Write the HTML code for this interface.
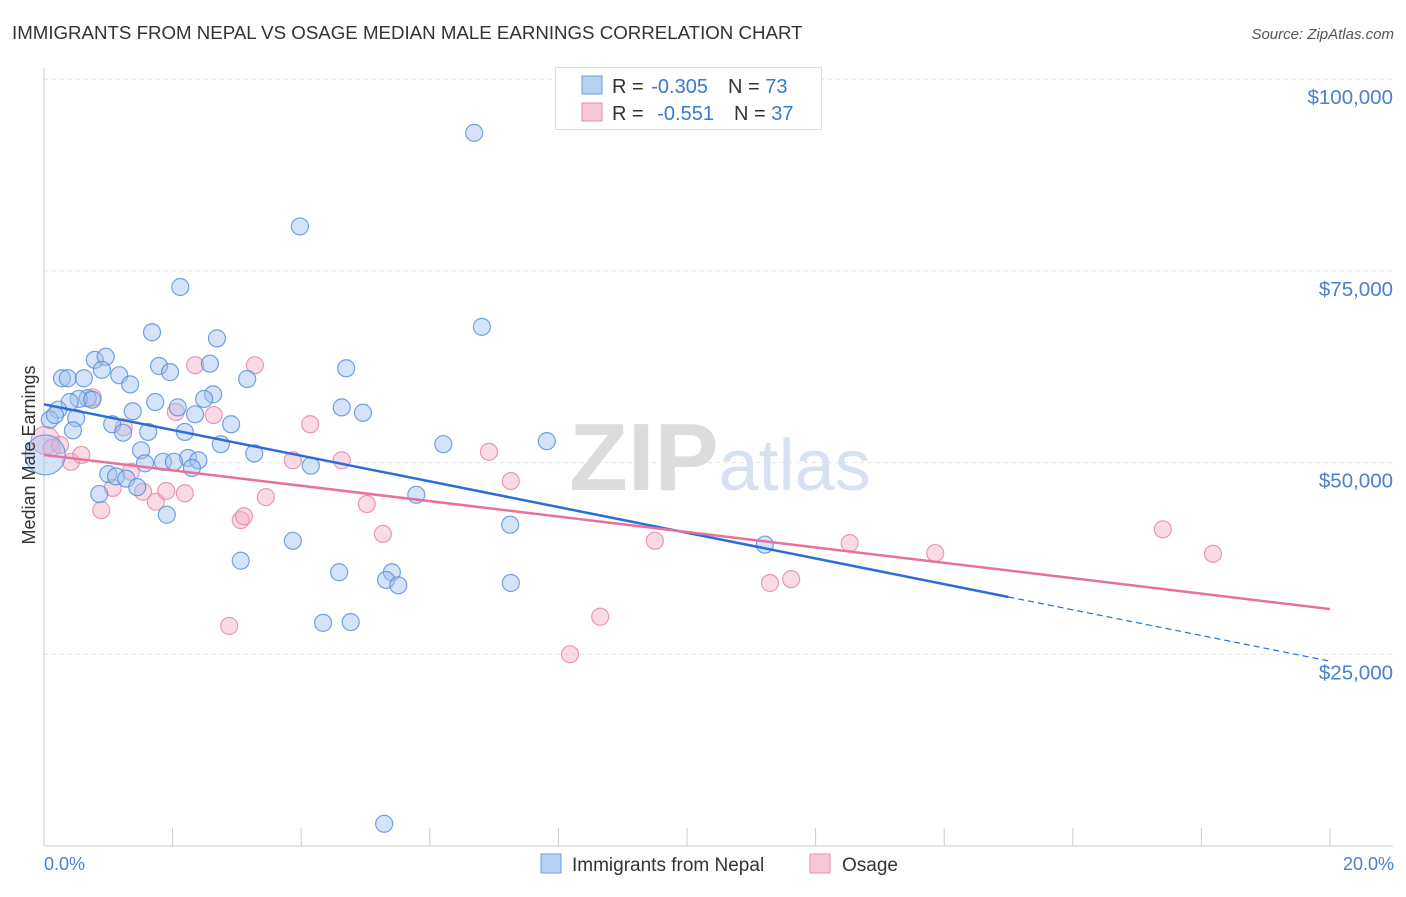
<!DOCTYPE html>
<html><head><meta charset="utf-8"><style>
body{margin:0;background:#fff;font-family:"Liberation Sans",sans-serif;}
svg text{font-family:"Liberation Sans",sans-serif;}
</style></head><body>
<svg width="1406" height="892" viewBox="0 0 1406 892">
<text x="12" y="39" font-size="18.7" fill="#333">IMMIGRANTS FROM NEPAL VS OSAGE MEDIAN MALE EARNINGS CORRELATION CHART</text>
<text x="1394" y="39" font-size="15" fill="#555" font-style="italic" text-anchor="end">Source: ZipAtlas.com</text>
<g id="grid"></g>
<text x="720" y="490" font-size="96" fill="#e4e4e4" text-anchor="middle" font-family="Liberation Serif"><tspan font-weight="bold" fill="#dcdcdc">ZIP</tspan><tspan font-size="72" fill="#d6e2f2" font-family="Liberation Sans">atlas</tspan></text>
<g id="axes"></g>
<g id="pts"></g>
<g id="lines"></g>
<text transform="translate(35,455) rotate(-90)" font-size="18" fill="#333" text-anchor="middle">Median Male Earnings</text>
<text x="44" y="870" font-size="18" fill="#4a7fd4">0.0%</text>
<text x="1394" y="870" font-size="18" fill="#4a7fd4" text-anchor="end">20.0%</text>
<g>
<rect x="555.5" y="67.5" width="266" height="62" fill="#fff" stroke="#ddd"/>
<rect x="582" y="76" width="20" height="18" fill="#b7d0f4" stroke="#6a9de0"/>
<rect x="582" y="103" width="20" height="18" fill="#f8c8d7" stroke="#e890ac"/>
<text x="612" y="93" font-size="20" fill="#333">R = <tspan dx="2" fill="#3a78d8">-0.305</tspan><tspan dx="20">N = </tspan><tspan fill="#3a78d8">73</tspan></text>
<text x="612" y="120" font-size="20" fill="#333">R = <tspan dx="8" fill="#3a78d8">-0.551</tspan><tspan dx="20">N = </tspan><tspan fill="#3a78d8">37</tspan></text>
</g>
<g>
<rect x="541" y="854" width="20" height="19" fill="#b7d0f4" stroke="#6a9de0"/>
<text x="572" y="871" font-size="19" fill="#333">Immigrants from Nepal</text>
<rect x="810" y="854" width="20" height="19" fill="#f8c8d7" stroke="#e890ac"/>
<text x="842" y="871" font-size="19" fill="#333">Osage</text>
</g>
</svg>
<script>
const yTicks=[25000,50000,75000,100000];
const yTickLabels=["$25,000","$50,000","$75,000","$100,000"];
const xTicks=[0,2,4,6,8,10,12,14,16,18,20];
const nepalX=[6.69,3.98,2.12,6.81,1.68,2.69,0.79,0.96,1.79,2.58,1.96,4.70,0.28,0.37,0.90,1.17,0.62,1.34,3.16,2.63,2.49,0.68,0.54,0.75,0.40,1.73,2.08,4.63,4.96,0.22,1.38,2.35,0.50,0.09,1.06,2.91,1.62,1.23,2.19,0.45,6.21,7.82,2.75,1.51,3.27,2.24,2.40,1.57,1.85,2.02,4.15,2.30,1.00,1.12,1.28,1.45,0.86,5.79,1.91,7.25,11.21,3.87,3.06,4.59,5.41,5.32,5.51,7.26,4.34,4.77,5.29,0.17,0.02];
const nepalY=[93.0,80.8,72.9,67.7,67.0,66.2,63.4,63.8,62.6,62.9,61.8,62.3,61.0,61.0,62.1,61.4,61.0,60.2,60.9,58.9,58.3,58.4,58.3,58.2,57.9,57.9,57.2,57.2,56.5,56.9,56.7,56.3,55.8,55.6,55.0,55.0,54.0,53.9,54.0,54.2,52.4,52.8,52.4,51.6,51.2,50.6,50.3,49.9,50.1,50.1,49.6,49.3,48.5,48.2,47.9,46.8,45.9,45.8,43.2,41.9,39.3,39.8,37.2,35.7,35.7,34.7,34.0,34.3,29.1,29.2,2.9,56.2,51.0];
const osageX=[0.02,0.12,0.25,0.42,0.58,0.89,1.07,1.24,1.35,1.54,1.74,1.90,2.19,2.05,2.35,2.64,2.88,3.06,3.11,3.28,3.45,3.87,4.14,4.63,5.02,5.27,6.92,7.26,8.18,8.65,9.50,11.29,11.62,12.53,13.86,17.40,18.18,0.76];
const osageY=[52.9,51.9,52.3,50.1,51.0,43.8,46.7,54.6,48.8,46.2,44.9,46.3,46.0,56.6,62.7,56.2,28.7,42.5,43.0,62.7,45.5,50.3,55.0,50.3,44.6,40.7,51.4,47.6,25.0,29.9,39.8,34.3,34.8,39.5,38.2,41.3,38.1,58.5];
const nepalTrend=[57.6,24.1]; const nepalSolidEnd=15.0;
const osageTrend=[51.0,30.9];
const NS="http://www.w3.org/2000/svg";
const X=v=>44+v*64.3;
const Y=v=>846-v*7.668;
function mk(tag,attrs,parent){const e=document.createElementNS(NS,tag);for(const k in attrs)e.setAttribute(k,attrs[k]);parent.appendChild(e);return e;}
const gridG=document.getElementById('grid'),axesG=document.getElementById('axes'),ptsG=document.getElementById('pts'),linesG=document.getElementById('lines');
yTicks.forEach((t,i)=>{
 const y=Y(t/1000);
 const l=mk('line',{x1:44,x2:1393,y1:y,y2:y,stroke:'#e2e2e2','stroke-dasharray':'4,4'},gridG);
 
 
 const tx=mk('text',{x:1393,y:y+25,'font-size':20.5,fill:'#4a7fd4','text-anchor':'end'},gridG);
 tx.textContent=yTickLabels[i];
 
 
});
let a=mk('line',{x1:44,x2:44,y1:68,y2:846,stroke:'#ccc'},axesG);


a=mk('line',{x1:44,x2:1393,y1:846,y2:846,stroke:'#ccc'},axesG);


xTicks.forEach(t=>{const l=mk('line',{x1:X(t),x2:X(t),y1:828,y2:846,stroke:'#ccc'},axesG);
 
 });
function dot(x,y,r,fill,stroke,name){const c=mk('circle',{cx:X(x),cy:Y(y),r:r,fill:fill,stroke:stroke,'stroke-width':1.2},ptsG);
 
 }
osageX.forEach((x,i)=>dot(x,osageY[i],i===0?14:8.5,'rgba(245,175,198,0.45)','rgba(228,130,165,0.8)','osage-point'));
nepalX.forEach((x,i)=>dot(x,nepalY[i],i===nepalX.length-1?20:8.5,'rgba(160,194,240,0.45)','rgba(80,140,220,0.8)','nepal-point'));
function lineAt(tr,x){return tr[0]+(tr[1]-tr[0])*x/20;}
let ln=mk('line',{x1:X(0),y1:Y(lineAt(nepalTrend,0)),x2:X(nepalSolidEnd),y2:Y(lineAt(nepalTrend,nepalSolidEnd)),stroke:'#2a6dd9','stroke-width':2.5},linesG);


ln=mk('line',{x1:X(nepalSolidEnd),y1:Y(lineAt(nepalTrend,nepalSolidEnd)),x2:X(20),y2:Y(lineAt(nepalTrend,20)),stroke:'#2a6dd9','stroke-width':1.2,'stroke-dasharray':'6,4'},linesG);


ln=mk('line',{x1:X(0),y1:Y(lineAt(osageTrend,0)),x2:X(20),y2:Y(lineAt(osageTrend,20)),stroke:'#e8709a','stroke-width':2.5},linesG);


</script>
</body></html>
